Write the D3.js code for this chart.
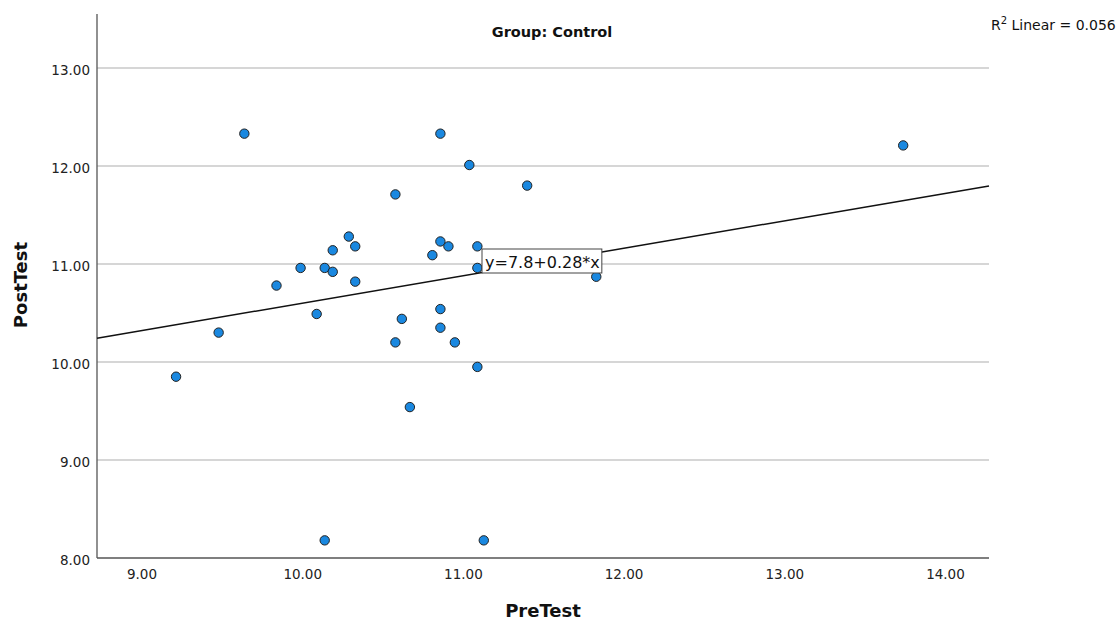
<!DOCTYPE html>
<html>
<head>
<meta charset="utf-8">
<script src="https://cdn.jsdelivr.net/npm/d3@7"></script>
<style>
  html, body { margin: 0; padding: 0; background: #fff; }
  svg { display: block; }
  text { font-family: "DejaVu Sans", sans-serif; }
</style>
</head>
<body>
<svg id="chart" width="1120" height="622"></svg>
<script>
// ---- data ----
const preTest = [9.215, 9.48, 9.64, 9.84, 9.99, 10.09, 10.14, 10.19, 10.19, 10.29, 10.33, 10.33,
  10.14, 10.58, 10.58, 10.62, 10.67, 10.81, 10.86, 10.86, 10.91, 10.86, 10.86, 10.95,
  11.04, 11.09, 11.09, 11.09, 11.13, 11.40, 11.83, 13.74];
const postTest = [9.85, 10.30, 12.33, 10.78, 10.96, 10.49, 10.96, 11.14, 10.92, 11.28, 11.18, 10.82,
  8.18, 11.71, 10.20, 10.44, 9.54, 11.09, 12.33, 11.23, 11.18, 10.54, 10.35, 10.20,
  12.01, 11.18, 10.96, 9.95, 8.18, 11.80, 10.87, 12.21];
const xTicks = [9, 10, 11, 12, 13, 14];
const yTicks = [8, 9, 10, 11, 12, 13];
const fitIntercept = 7.8;
const fitSlope = 0.28;
const fitLabel = "y=7.8+0.28*x";
const rSquared = "0.056";
const title = "Group: Control";
const xTitle = "PreTest";
const yTitle = "PostTest";

// ---- layout ----
const svg = d3.select("#chart");
const pLeft = 97, pRight = 989, pTop = 14, pBottom = 558;
const x = d3.scaleLinear().domain([8.723, 14.274]).range([pLeft, pRight]);
const y = d3.scaleLinear().domain([8, 13.551]).range([pBottom, pTop]);

// gridlines
svg.append("g")
  .selectAll("line").data(yTicks.filter(d => d > 8)).join("line")
  .attr("x1", pLeft).attr("x2", pRight)
  .attr("y1", d => y(d)).attr("y2", d => y(d))
  .attr("stroke", "#c8c8c8").attr("stroke-width", 1.5);

// y axis
const yAxis = svg.append("g").attr("transform", `translate(${pLeft},0)`)
  .call(d3.axisLeft(y).tickValues(yTicks).tickFormat(d3.format(".2f")).tickSize(0).tickPadding(7));
yAxis.select(".domain").remove();
yAxis.selectAll("text").attr("font-size", 13.5).attr("fill", "#222").attr("dy", "0.45em")
  .style("font-family", "'DejaVu Sans', sans-serif");

// x axis
const xAxis = svg.append("g").attr("transform", `translate(0,${pBottom})`)
  .call(d3.axisBottom(x).tickValues(xTicks).tickFormat(d3.format(".2f")).tickSize(0).tickPadding(11));
xAxis.select(".domain").remove();
xAxis.selectAll("text").attr("font-size", 13.5).attr("fill", "#222")
  .style("font-family", "'DejaVu Sans', sans-serif");

// axis lines
svg.append("line").attr("x1", pLeft).attr("x2", pLeft).attr("y1", pTop).attr("y2", pBottom)
  .attr("stroke", "#555").attr("stroke-width", 1.3);
svg.append("line").attr("x1", pLeft).attr("x2", pRight).attr("y1", pBottom).attr("y2", pBottom)
  .attr("stroke", "#555").attr("stroke-width", 1.3);

// fit line
const xd = x.domain();
svg.append("line")
  .attr("x1", x(xd[0])).attr("y1", y(fitIntercept + fitSlope * xd[0]))
  .attr("x2", x(xd[1])).attr("y2", y(fitIntercept + fitSlope * xd[1]))
  .attr("stroke", "#111").attr("stroke-width", 1.5);

// points
svg.append("g").selectAll("circle")
  .data(preTest.map((v, i) => [v, postTest[i]]))
  .join("circle")
  .attr("cx", d => x(d[0])).attr("cy", d => y(d[1])).attr("r", 4.7)
  .attr("fill", "#1a88e0").attr("stroke", "#222").attr("stroke-width", 1);

// fit label box
const lbl = svg.append("g");
const lblX = 482, lblY = 249;
const lt = lbl.append("text").attr("x", lblX + 3).attr("y", lblY + 18.5)
  .attr("font-size", 16).attr("fill", "#111").text(fitLabel);
const bw = lt.node().getComputedTextLength();
lbl.insert("rect", "text").attr("x", lblX).attr("y", lblY)
  .attr("width", bw + 5).attr("height", 24)
  .attr("fill", "#fff").attr("stroke", "#444").attr("stroke-width", 1);

// title
svg.append("text").attr("x", 552).attr("y", 37).attr("text-anchor", "middle")
  .attr("font-size", 14.5).attr("font-weight", "bold").attr("fill", "#111").text(title);

// R squared
const rt = svg.append("text").attr("x", 991).attr("y", 30).attr("font-size", 14).attr("fill", "#111");
rt.append("tspan").text("R");
rt.append("tspan").attr("font-size", 10).attr("dy", -6).text("2");
rt.append("tspan").attr("dy", 6).text(" Linear = " + rSquared);

// axis titles
svg.append("text").attr("x", 543).attr("y", 617).attr("text-anchor", "middle")
  .attr("font-size", 18).attr("font-weight", "bold").attr("fill", "#111").text(xTitle);
svg.append("text").attr("transform", "translate(27,285) rotate(-90)").attr("text-anchor", "middle")
  .attr("font-size", 18).attr("font-weight", "bold").attr("fill", "#111").text(yTitle);
</script>
</body>
</html>
